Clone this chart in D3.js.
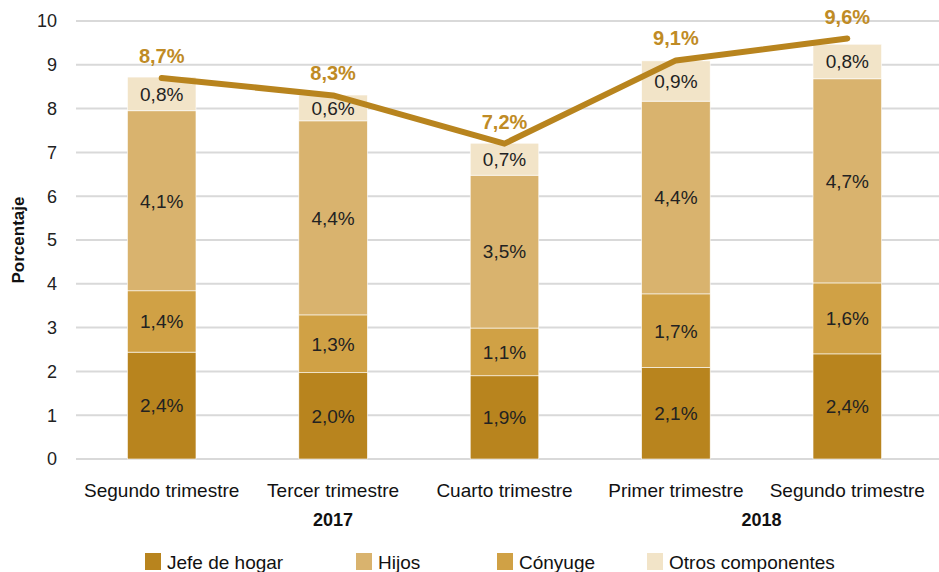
<!DOCTYPE html>
<html>
<head>
<meta charset="utf-8">
<script src="https://cdn.jsdelivr.net/npm/d3@7"></script>
<style>
  body { margin: 0; background: #fff; }
  svg text { font-family: "Liberation Sans", Arial, sans-serif; }
</style>
</head>
<body>
<div id="container"></div>
<script>
// data
var quarters = ["Segundo trimestre", "Tercer trimestre", "Cuarto trimestre", "Primer trimestre", "Segundo trimestre"];
var years = [{label: "2017", from: 0, to: 2}, {label: "2018", from: 3, to: 4}];
var jefe = [2.44, 1.97, 1.90, 2.09, 2.40];
var conyuge = [1.40, 1.32, 1.09, 1.68, 1.62];
var hijos = [4.11, 4.43, 3.49, 4.40, 4.66];
var otros = [0.77, 0.59, 0.73, 0.92, 0.79];
var total = [8.7, 8.3, 7.2, 9.1, 9.6];
var yTicks = [0, 1, 2, 3, 4, 5, 6, 7, 8, 9, 10];

var width = 939, height = 572;
var margin = {top: 21, right: 6, bottom: 113, left: 76};

// stack order bottom to top
var series = [
  {name: "Jefe de hogar", values: jefe, color: "#b8841e"},
  {name: "Cónyuge", values: conyuge, color: "#d0a145"},
  {name: "Hijos", values: hijos, color: "#d9b36e"},
  {name: "Otros componentes", values: otros, color: "#f2e4c8"}
];
var legendOrder = ["Jefe de hogar", "Hijos", "Cónyuge", "Otros componentes"];
var fmt = function(v){ return d3.format(".1f")(v).replace(".", ",") + "%"; };

var svg = d3.select("#container").append("svg")
  .attr("width", width).attr("height", height);

var x = d3.scaleBand()
  .domain(d3.range(quarters.length))
  .range([margin.left, width - margin.right])
  .paddingInner(0.6).paddingOuter(0.3);

var y = d3.scaleLinear().domain([0, 10]).range([height - margin.bottom, margin.top]);

// gridlines
svg.append("g").selectAll("line").data(yTicks).join("line")
  .attr("x1", margin.left).attr("x2", width)
  .attr("y1", function(d){ return y(d); }).attr("y2", function(d){ return y(d); })
  .attr("stroke", "#d9d9d9").attr("stroke-width", 2);

// y tick labels
svg.append("g").selectAll("text").data(yTicks).join("text")
  .attr("x", 57).attr("y", function(d){ return y(d); })
  .attr("dy", "0.35em").attr("text-anchor", "end")
  .attr("font-size", 18).attr("fill", "#222")
  .text(function(d){ return d; });

svg.append("text")
  .attr("transform", "translate(24," + y(5) + ") rotate(-90)")
  .attr("text-anchor", "middle").attr("font-size", 17).attr("font-weight", "bold")
  .attr("fill", "#111").text("Porcentaje");

// stacked bars
var stackData = quarters.map(function(q, i){
  var row = {i: i};
  series.forEach(function(s){ row[s.name] = s.values[i]; });
  return row;
});
var stacked = d3.stack().keys(series.map(function(s){ return s.name; }))(stackData);

var layers = svg.append("g").selectAll("g").data(stacked).join("g")
  .attr("fill", function(d, k){ return series[k].color; });

layers.selectAll("rect").data(function(d){ return d; }).join("rect")
  .attr("x", function(d){ return x(d.data.i); })
  .attr("width", x.bandwidth())
  .attr("y", function(d){ return y(d[1]); })
  .attr("height", function(d){ return y(d[0]) - y(d[1]); })
  .attr("stroke", "#fff").attr("stroke-width", 0.6);

layers.selectAll("text").data(function(d){ return d; }).join("text")
  .attr("x", function(d){ return x(d.data.i) + x.bandwidth() / 2; })
  .attr("y", function(d){ return (y(d[0]) + y(d[1])) / 2; })
  .attr("dy", "0.36em").attr("text-anchor", "middle")
  .attr("font-size", 19).attr("fill", "#222")
  .text(function(d){ return fmt(d[1] - d[0]); });

// total line
var line = d3.line()
  .x(function(d, i){ return x(i) + x.bandwidth() / 2; })
  .y(function(d){ return y(d); });

svg.append("path").datum(total)
  .attr("d", line).attr("fill", "none")
  .attr("stroke", "#b8841e").attr("stroke-width", 6)
  .attr("stroke-linecap", "round").attr("stroke-linejoin", "round");

svg.append("g").selectAll("text").data(total).join("text")
  .attr("x", function(d, i){ return x(i) + x.bandwidth() / 2; })
  .attr("y", function(d){ return y(d) - 15; })
  .attr("text-anchor", "middle").attr("font-size", 20).attr("font-weight", "bold")
  .attr("fill", "#bf8b25")
  .text(function(d){ return fmt(d); });

// category labels
svg.append("g").selectAll("text").data(quarters).join("text")
  .attr("x", function(d, i){ return x(i) + x.bandwidth() / 2; })
  .attr("y", 497).attr("text-anchor", "middle")
  .attr("font-size", 19).attr("fill", "#111")
  .text(function(d){ return d; });

svg.append("g").selectAll("text").data(years).join("text")
  .attr("x", function(d){ return (x(d.from) + x(d.to) + x.bandwidth()) / 2; })
  .attr("y", 526).attr("text-anchor", "middle")
  .attr("font-size", 18).attr("font-weight", "bold").attr("fill", "#111")
  .text(function(d){ return d.label; });

// legend
var legendX = [145, 356, 497, 647];
var lg = svg.append("g").selectAll("g").data(legendOrder).join("g")
  .attr("transform", function(d, i){ return "translate(" + legendX[i] + ",553)"; });
lg.append("rect").attr("width", 16).attr("height", 17)
  .attr("fill", function(d){ return series.find(function(s){ return s.name === d; }).color; });
lg.append("text").attr("x", 22).attr("y", 9).attr("dy", "0.36em")
  .attr("font-size", 19).attr("fill", "#111")
  .text(function(d){ return d; });
</script>
</body>
</html>
